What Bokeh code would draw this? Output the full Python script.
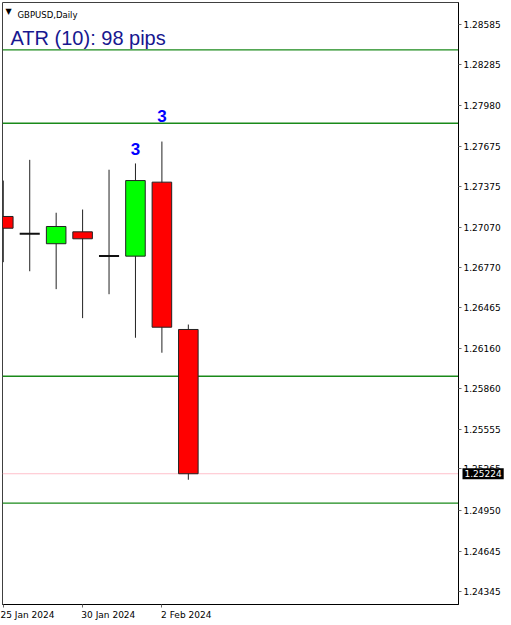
from bokeh.plotting import figure
from bokeh.models import Range1d, FixedTicker, PrintfTickFormatter, Label, ColumnDataSource, Span
from bokeh.core.properties import value
from bokeh.embed import file_html
from bokeh.resources import INLINE

# ---- data ----
dates = ["25 Jan 2024", "26 Jan 2024", "29 Jan 2024", "30 Jan 2024",
         "31 Jan 2024", "1 Feb 2024", "2 Feb 2024", "5 Feb 2024"]
opens = [1.27150, 1.27021, 1.26946, 1.27035, 1.26853, 1.26853, 1.27407, 1.26304]
highs = [1.27419, 1.27574, 1.27178, 1.27202, 1.27500, 1.27547, 1.27711, 1.26341]
lows = [1.26808, 1.26740, 1.26606, 1.26389, 1.26568, 1.26242, 1.26130, 1.25179]
closes = [1.27062, 1.27019, 1.27075, 1.26983, 1.26855, 1.27419, 1.26321, 1.25224]

levels = [1.28398, 1.27848, 1.25954, 1.25004]
count_labels = ["3", "3"]
count_dates = ["1 Feb 2024", "2 Feb 2024"]
count_prices = [1.27657, 1.27906]

y_ticks = [1.28585, 1.28285, 1.27980, 1.27675, 1.27375, 1.27070, 1.26770,
           1.26465, 1.26160, 1.25860, 1.25555, 1.25265, 1.24950, 1.24645, 1.24345]
x_tick_labels = ["25 Jan 2024", "30 Jan 2024", "2 Feb 2024"]

symbol_text = "GBPUSD,Daily"
atr_text = "ATR (10): 98 pips"

# ---- derived ----
idx = list(range(len(dates)))
bull = dict(x=[], top=[], bottom=[])
bear = dict(x=[], top=[], bottom=[])
doji = dict(x0=[], x1=[], y=[])
half = 0.38
for i, o, c in zip(idx, opens, closes):
    if abs(o - c) < 0.00005:
        doji["x0"].append(i - half)
        doji["x1"].append(i + half)
        doji["y"].append((o + c) / 2)
    elif c > o:
        bull["x"].append(i); bull["top"].append(c); bull["bottom"].append(o)
    else:
        bear["x"].append(i); bear["top"].append(o); bear["bottom"].append(c)

# DejaVu Sans advance widths (em) used to left-align date labels at their ticks
_w = {" ": 0.318, "J": 0.295, "F": 0.575, "a": 0.613, "n": 0.634, "e": 0.615, "b": 0.635}
def text_em(s):
    return sum(_w.get(ch, 0.636) for ch in s)
def left_aligned(s, i):
    if i == 0:   # the first label is already pushed inside the canvas edge
        return s
    n = int(round(text_em(s) / 0.318)) - 1
    return "\u00a0" * n + s

x_start, x_end = -0.03, 17.22
p = figure(width=511, height=625, output_backend="svg", toolbar_location=None,
           x_range=Range1d(x_start, x_end), y_range=Range1d(1.24245, 1.28752),
           y_axis_location="right",
           min_border_left=2, min_border_top=2, min_border_right=53, min_border_bottom=21)
p.background_fill_color = "white"
p.border_fill_color = "white"
p.outline_line_color = "#404040"
p.xgrid.visible = False
p.ygrid.visible = False

# horizontal levels
for lv in levels:
    p.add_layout(Span(location=lv, dimension="width", line_color="#1a8a1a", line_width=1.3,
                      level="underlay"))
p.add_layout(Span(location=closes[-1], dimension="width", line_color="#ffc0cb", line_width=1,
                  level="underlay"))

# wicks
p.segment(x0=idx, y0=lows, x1=idx, y1=highs, line_color="#222222", line_width=1)
# bodies
p.vbar(source=ColumnDataSource(bull), x="x", top="top", bottom="bottom", width=0.74,
       fill_color="#00ff00", line_color="#222222", line_width=1)
p.vbar(source=ColumnDataSource(bear), x="x", top="top", bottom="bottom", width=0.74,
       fill_color="#ff0000", line_color="#222222", line_width=1)
p.segment(source=ColumnDataSource(doji), x0="x0", y0="y", x1="x1", y1="y",
          line_color="#111111", line_width=2)

# count labels
p.text(x=[dates.index(d) for d in count_dates], y=count_prices, text=count_labels,
       text_font=value("Liberation Sans"), text_font_style="bold", text_font_size="17px",
       text_color="#0000ff", text_align="center", text_baseline="middle")

# axes
ya = p.yaxis[0]
ya.ticker = FixedTicker(ticks=y_ticks, minor_ticks=[])
ya.formatter = PrintfTickFormatter(format="%.5f")
ya.major_tick_out = 3
ya.major_tick_in = 0
ya.minor_tick_out = 0
ya.major_label_standoff = 2
ya.major_label_text_font = "DejaVu Sans"
ya.major_label_text_font_size = "9px"
ya.major_label_text_color = "#000000"
ya.axis_line_color = "#000000"
ya.major_tick_line_color = "#666666"

xa = p.xaxis[0]
tick_idx = [dates.index(t) for t in x_tick_labels]
xa.ticker = FixedTicker(ticks=tick_idx, minor_ticks=[])
xa.major_label_overrides = {i: left_aligned(t, k) for k, (i, t) in enumerate(zip(tick_idx, x_tick_labels))}
xa.major_tick_out = 3
xa.major_tick_in = 0
xa.minor_tick_out = 0
xa.major_label_standoff = 2
xa.major_label_text_font = "DejaVu Sans"
xa.major_label_text_font_size = "9px"
xa.major_label_text_color = "#000000"
xa.axis_line_color = "#000000"
xa.major_tick_line_color = "#666666"

# header texts (screen units relative to the frame, y measured from its bottom)
frame_h = 625 - 2 - 21
p.add_layout(Label(x=3, y=frame_h - 8.5, x_units="screen", y_units="screen", text="\u25bc",
                   text_font="DejaVu Sans", text_font_size="8px", text_color="#000000",
                   text_baseline="middle"))
p.add_layout(Label(x=15, y=frame_h - 12, x_units="screen", y_units="screen", text=symbol_text,
                   text_font="DejaVu Sans", text_font_size="8.5px", text_color="#000000",
                   text_baseline="alphabetic"))
p.add_layout(Label(x=8, y=frame_h - 35.5, x_units="screen", y_units="screen", text=atr_text,
                   text_font="Liberation Sans", text_font_size="20px", text_color="#17178f",
                   text_baseline="alphabetic"))

# current price marker on the price axis (text glyph at the right edge of the x range)
p.text(x=[x_end], y=[closes[-1]], text=["%.5f" % closes[-1]], x_offset=4,
       text_font=value("DejaVu Sans"), text_font_size="9px", text_color="#ffffff",
       text_align="left", text_baseline="middle",
       background_fill_color="#000000", padding=2, level="overlay")

open("out.html", "w").write(file_html(p, INLINE))
